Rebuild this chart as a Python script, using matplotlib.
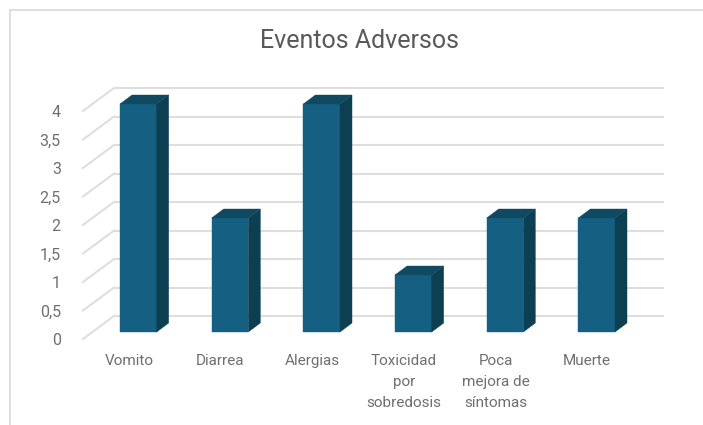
import matplotlib
matplotlib.use("Agg")
import matplotlib.pyplot as plt
from matplotlib.lines import Line2D
from matplotlib.patches import Polygon
from matplotlib.transforms import Affine2D

categories = ["Vomito", "Diarrea", "Alergias", "Toxicidad\npor\nsobredosis",
              "Poca\nmejora de\nsíntomas", "Muerte"]
values = [4, 2, 4, 1, 2, 2]
y_ticks = [0, 0.5, 1, 1.5, 2, 2.5, 3, 3.5, 4]
y_labels = ["0", "0,5", "1", "1,5", "2", "2,5", "3", "3,5", "4"]

W, H = 703, 425
plt.rcParams["font.family"] = ["Roboto", "DejaVu Sans"]
fig = plt.figure(figsize=(W / 100, H / 100), dpi=100)

# front plane of the floor: x 83..633 px, y value 0 at 339 px, value 4 at 111 px (from top)
ax = fig.add_axes([83 / W, (H - 339) / H, 550 / W, 228 / H])
ax.set_xlim(-0.5, 5.5)
ax.set_ylim(0, 4)
ax.patch.set_visible(False)
for s in ax.spines.values():
    s.set_visible(False)

TEXT = "#6f6f6f"
GRID = "#dedede"
FRONT = "#156082"
SIDE = "#0d3f52"
TOP = "#104a62"

ax.set_xticks(range(len(categories)), categories, fontsize=11, color=TEXT, linespacing=1.62)
ax.set_yticks(y_ticks, y_labels, fontsize=11.5, color=TEXT)
ax.tick_params(axis="both", length=0)
ax.tick_params(axis="x", pad=11)
ax.tick_params(axis="y", pad=16)

fig.text(360 / W, 1 - 41.5 / H, "Eventos Adversos", ha="center", va="center",
         fontsize=18, color="#595959")

# walls
back = Affine2D().translate(31, 23)
bar_front = Affine2D().translate(9.5, 7)
bar_depth = (12, 9)
for v in y_ticks:
    ax.plot([-0.5, 5.5], [v, v], color=GRID, lw=1.5, clip_on=False, zorder=1,
            transform=ax.transData + back, solid_capstyle="butt")
    p0 = ax.transData.transform((-0.5, v))
    ax.add_line(Line2D([p0[0], p0[0] + 31], [p0[1], p0[1] + 23], color=GRID, lw=1.5,
                       transform=None, clip_on=False, zorder=1))

# bars with oblique side and top faces
half = 0.2
tr = ax.transData + bar_front
dx, dy = bar_depth
bars = ax.bar(range(len(values)), values, width=2 * half, color=FRONT, edgecolor=FRONT,
              linewidth=0.3, transform=tr, clip_on=False, zorder=3)
for i, v in enumerate(values):
    x0, y0 = tr.transform((i - half, 0))
    x1, y1 = tr.transform((i + half, v))
    fig.add_artist(Polygon([(x1, y0), (x1 + dx, y0 + dy), (x1 + dx, y1 + dy), (x1, y1)],
                           closed=True, facecolor=SIDE, edgecolor=SIDE, lw=0.3, transform=None, zorder=4))
    fig.add_artist(Polygon([(x0, y1), (x1, y1), (x1 + dx, y1 + dy), (x0 + dx, y1 + dy)],
                           closed=True, facecolor=TOP, edgecolor=TOP, lw=0.3, transform=None, zorder=4))

# screenshot edge lines
fig.add_artist(Line2D([9.5 / W, 9.5 / W], [0, 1 - 9.5 / H], color="#d9d9d9", lw=1.2))
fig.add_artist(Line2D([9.5 / W, 1], [1 - 9.5 / H, 1 - 9.5 / H], color="#d9d9d9", lw=1.2))

fig.savefig("out.png", dpi=100)
